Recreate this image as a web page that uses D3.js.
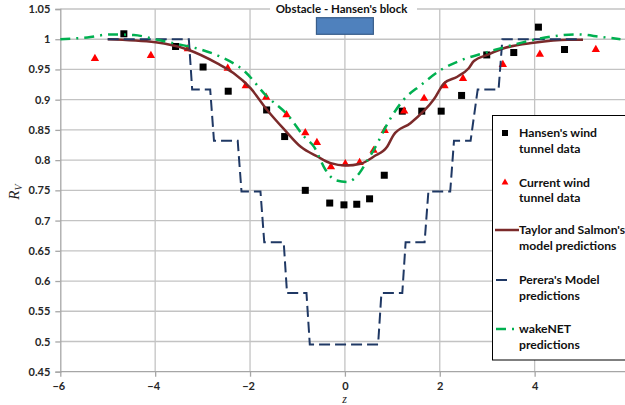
<!DOCTYPE html>
<html><head><meta charset="utf-8">
<script src="https://cdn.jsdelivr.net/npm/d3@7"></script>
<style>body{margin:0;background:#fff}svg{display:block}text{font-family:Lato,"Open Sans",sans-serif;font-weight:bold}</style>
</head><body><svg id="c" width="625" height="405"></svg>
<script>
const xTicks=[-6,-4,-2,0,2,4];
const yTicks=[0.45,0.5,0.55,0.6,0.65,0.7,0.75,0.8,0.85,0.9,0.95,1,1.05];
const hansenZ=[-4.66,-3.57,-2.99,-2.46,-1.65,-1.27,-0.835,-0.32,-0.02,0.25,0.52,0.83,1.21,1.62,2.03,2.46,2.99,3.56,4.08,4.63];
const hansenR=[1.009,0.988,0.954,0.914,0.883,0.839,0.750,0.729,0.726,0.727,0.736,0.775,0.881,0.881,0.881,0.907,0.974,0.978,1.020,0.983];
const currentZ=[-5.27,-4.09,-3.31,-2.47,-2.09,-1.66,-1.23,-0.835,-0.59,-0.295,0.008,0.31,0.605,0.84,1.25,1.67,2.10,2.49,3.33,4.11,5.29];
const currentR=[0.968,0.973,0.984,0.952,0.923,0.904,0.875,0.845,0.829,0.789,0.794,0.796,0.816,0.849,0.881,0.902,0.923,0.935,0.958,0.975,0.983];
const taylorZ=[-5.0,-3.99,-3.32,-2.69,-2.35,-1.99,-1.64,-1.27,-0.93,-0.58,-0.30,0.01,0.33,0.61,0.89,1.03,1.38,1.88,2.09,2.37,2.61,2.72,3.0,3.35,3.98,4.69,5.02];
const taylorR=[1.0,0.995,0.983,0.960,0.944,0.919,0.883,0.850,0.822,0.806,0.795,0.791,0.794,0.806,0.822,0.842,0.861,0.901,0.927,0.938,0.952,0.964,0.974,0.985,0.994,0.999,0.999];
const pereraZ=[-5.0,-3.29,-3.22,-2.84,-2.76,-2.26,-2.18,-1.78,-1.70,-1.29,-1.22,-0.81,-0.74,0.70,0.77,1.21,1.28,1.68,1.76,2.22,2.30,2.65,2.80,3.24,3.32,5.0];
const pereraR=[1.0,1.0,0.917,0.917,0.832,0.832,0.748,0.748,0.664,0.664,0.580,0.580,0.495,0.495,0.580,0.580,0.664,0.664,0.748,0.748,0.832,0.832,0.917,0.917,1.0,1.0];
const wakeZ=[-6,-5.43,-4.94,-4.45,-3.95,-3.53,-3.04,-2.62,-2.13,-1.64,-1.21,-0.86,-0.65,-0.41,-0.20,0.05,0.30,0.44,0.70,0.86,1.24,1.60,2.02,2.44,2.93,3.42,3.98,4.40,4.90,5.39,5.81];
const wakeR=[1.0,1.003,1.008,1.007,0.999,0.992,0.983,0.971,0.948,0.905,0.875,0.839,0.822,0.784,0.767,0.764,0.778,0.795,0.830,0.855,0.9,0.924,0.949,0.965,0.977,0.988,0.999,1.005,1.008,1.004,1.0];
const legendLabels=[["Hansen's wind","tunnel data"],["Current wind","tunnel data"],["Taylor and Salmon's","model predictions"],["Perera's Model","predictions"],["wakeNET","predictions"]];
const titleText="Obstacle - Hansen's block";
const obstacleZ=[-0.6,0.6];

const svg=d3.select("#c");
const x=d3.scaleLinear().domain([-6,6]).range([60.3,629.5]);
const y=d3.scaleLinear().domain([0.45,1.05]).range([371.7,9]);
svg.append("rect").attr("width",625).attr("height",405).attr("fill","#fff");

// grid
svg.append("g").selectAll("line").data(yTicks.slice(1)).join("line")
 .attr("x1",x(-6)).attr("x2",625).attr("y1",d=>y(d)).attr("y2",d=>y(d))
 .attr("stroke","#c3c3c3").attr("stroke-width",1.3);
svg.append("g").selectAll("line").data(xTicks.slice(1)).join("line")
 .attr("y1",y(0.45)).attr("y2",y(1.05)).attr("x1",d=>x(d)).attr("x2",d=>x(d))
 .attr("stroke","#c3c3c3").attr("stroke-width",1.3);

// axes
const yAxis=d3.axisLeft(y).tickValues(yTicks).tickFormat(d=>d3.format("")(+d.toFixed(2))).tickSize(5).tickPadding(5);
const gy=svg.append("g").attr("transform",`translate(${x(-6)},0)`).call(yAxis);
const xAxis=d3.axisBottom(x).tickValues(xTicks).tickSize(5).tickPadding(6).tickFormat(d3.format(""));
const gx=svg.append("g").attr("transform",`translate(0,${y(0.45)})`).call(xAxis);
[gx,gy].forEach(g=>{
 g.select(".domain").attr("stroke","#a6a6a6").attr("stroke-width",1.3);
 g.selectAll(".tick line").attr("stroke","#a6a6a6").attr("stroke-width",1.3);
 g.selectAll("text").attr("font-size",11).attr("fill","#262626").style("font-family","Lato,sans-serif").style("font-weight","bold");
});
gx.select(".domain").attr("d",`M${x(-6)},0H625`);
gx.selectAll(".tick text").attr("dx",d=>d<0?"-2":"0");

// axis titles
svg.append("text").attr("x",344.5).attr("y",402.5).attr("text-anchor","middle")
 .style("font-family","'Liberation Serif',serif").style("font-style","italic").style("font-weight","normal")
 .attr("font-size",12).attr("fill","#222").text("z");
const yl=svg.append("text").attr("transform","translate(19,192) rotate(-90)").attr("text-anchor","middle")
 .style("font-family","'Liberation Serif',serif").style("font-style","italic").style("font-weight","normal").attr("font-size",15).attr("fill","#222");
yl.append("tspan").text("R");
yl.append("tspan").attr("font-size",10).attr("dy",3).text("V");

// title + obstacle
svg.append("rect").attr("x",270).attr("y",0).attr("width",147).attr("height",17).attr("fill","#fff");
svg.append("text").attr("x",341.5).attr("y",13).attr("text-anchor","middle").attr("font-size",11.5).attr("fill","#111").text(titleText);
svg.append("rect").attr("x",x(obstacleZ[0])).attr("y",17.7).attr("width",x(obstacleZ[1])-x(obstacleZ[0])).attr("height",16.6)
 .attr("fill","#4f81bd").attr("stroke","#385d8a").attr("stroke-width",1.2);

// series
const pts=(zs,rs)=>zs.map((z,i)=>[z,rs[i]]);
const line=d3.line().x(d=>x(d[0])).y(d=>y(d[1]));
const sq=7;
svg.append("g").selectAll("rect").data(pts(hansenZ,hansenR)).join("rect")
 .attr("x",d=>x(d[0])-sq/2).attr("y",d=>y(d[1])-sq/2).attr("width",sq).attr("height",sq).attr("fill","#000");
const tri=d3.symbol().type(d3.symbolTriangle).size(30);
svg.append("g").selectAll("path").data(pts(currentZ,currentR)).join("path")
 .attr("transform",d=>`translate(${x(d[0])},${y(d[1])})`).attr("d",tri).attr("fill","#ff0000");
svg.append("path").datum(pts(taylorZ,taylorR)).attr("d",line.curve(d3.curveMonotoneX))
 .attr("fill","none").attr("stroke","#7b2a2a").attr("stroke-width",2.5);
svg.append("path").datum(pts(pereraZ,pereraR)).attr("d",d3.line().x(d=>x(d[0])).y(d=>y(d[1])))
 .attr("fill","none").attr("stroke","#1f3864").attr("stroke-width",2).attr("stroke-dasharray","11,5");
svg.append("path").datum(pts(wakeZ,wakeR)).attr("d",d3.line().x(d=>x(d[0])).y(d=>y(d[1])).curve(d3.curveMonotoneX))
 .attr("fill","none").attr("stroke","#00b050").attr("stroke-width",2.5).attr("stroke-dasharray","10,6,2,6");

// legend
const lg=svg.append("g");
lg.append("rect").attr("x",492.5).attr("y",115.5).attr("width",140).attr("height",244.5).attr("fill","#fff").attr("stroke","#000").attr("stroke-width",1);
const rowY=[133,182.5,230,280,329];
lg.append("rect").attr("x",505-3).attr("y",rowY[0]-3).attr("width",6).attr("height",6).attr("fill","#000");
lg.append("path").attr("transform",`translate(505,${rowY[1]})`).attr("d",d3.symbol().type(d3.symbolTriangle).size(20)).attr("fill","#ff0000");
lg.append("line").attr("x1",495).attr("x2",519).attr("y1",rowY[2]).attr("y2",rowY[2]).attr("stroke","#7b2a2a").attr("stroke-width",2.5);
lg.append("line").attr("x1",496).attr("x2",507).attr("y1",rowY[3]).attr("y2",rowY[3]).attr("stroke","#1f3864").attr("stroke-width",2);
lg.append("line").attr("x1",496).attr("x2",518).attr("y1",rowY[4]).attr("y2",rowY[4]).attr("stroke","#00b050").attr("stroke-width",2.5).attr("stroke-dasharray","10,6,2,6");
legendLabels.forEach((l,i)=>{
 l.forEach((t,j)=>lg.append("text").attr("x",519).attr("y",rowY[i]+4+j*15.5).attr("font-size",12.2).attr("fill","#111").text(t));
});
</script></body></html>
